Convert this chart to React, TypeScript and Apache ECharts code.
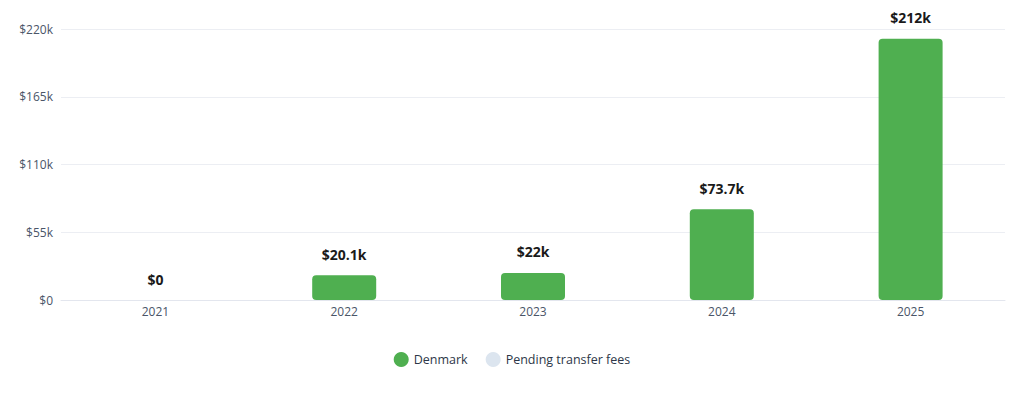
import React, { useEffect, useRef } from "react";
import * as echarts from "echarts";

const categories = ["2021", "2022", "2023", "2024", "2025"];
const denmarkValues = [0, 20100, 22000, 73700, 212000];
const pendingValues = [0, 0, 0, 0, 0];
const yTicks = [0, 55000, 110000, 165000, 220000];

function fmtK(v: number): string {
  if (v === 0) return "$0";
  const k = Math.round((v / 1000) * 10) / 10;
  return "$" + k + "k";
}

export default function App() {
  const ref = useRef<HTMLDivElement>(null);
  useEffect(() => {
    if (!ref.current) return;
    const chart = echarts.init(ref.current, undefined, { renderer: "svg" });
    chart.setOption({
      animation: false,
      textStyle: { fontFamily: "Open Sans" },
      grid: { left: 61, right: 19, top: 29, bottom: 117 },
      legend: {
        bottom: 45,
        left: "center",
        icon: "circle",
        itemWidth: 15,
        itemHeight: 15,
        itemGap: 18,
        textStyle: { color: "#2d3748", fontSize: 12.5, fontFamily: "Open Sans" },
        data: ["Denmark", "Pending transfer fees"],
      },
      xAxis: {
        type: "category",
        data: categories,
        axisLine: { show: true, lineStyle: { color: "#e3e6ee" } },
        axisTick: { show: false },
        axisLabel: { color: "#4a5568", fontSize: 12, margin: 5 },
      },
      yAxis: {
        type: "value",
        min: yTicks[0],
        max: yTicks[yTicks.length - 1],
        interval: 55000,
        axisLine: { show: false },
        axisTick: { show: false },
        splitLine: { lineStyle: { color: "#eceef3" } },
        axisLabel: { color: "#4a5568", fontSize: 12, margin: 8, formatter: (v: number) => fmtK(v) },
      },
      series: [
        {
          name: "Denmark",
          type: "bar",
          stack: "total",
          data: denmarkValues,
          barWidth: 64,
          itemStyle: { color: "#4faf50", borderRadius: 4 },
          label: {
            show: true,
            position: "top",
            distance: 14,
            color: "#1a1a1a",
            fontSize: 14,
            fontWeight: "bold",
            fontFamily: "Open Sans",
            formatter: (p: any) => fmtK(p.value),
          },
        },
        {
          name: "Pending transfer fees",
          type: "bar",
          stack: "total",
          data: pendingValues,
          barWidth: 64,
          itemStyle: { color: "#dce5ef", borderRadius: 4 },
        },
      ],
    });
    return () => chart.dispose();
  }, []);
  return <div ref={ref} style={{ position: "absolute", left: 0, top: 0, width: 1024, height: 417 }} />;
}
